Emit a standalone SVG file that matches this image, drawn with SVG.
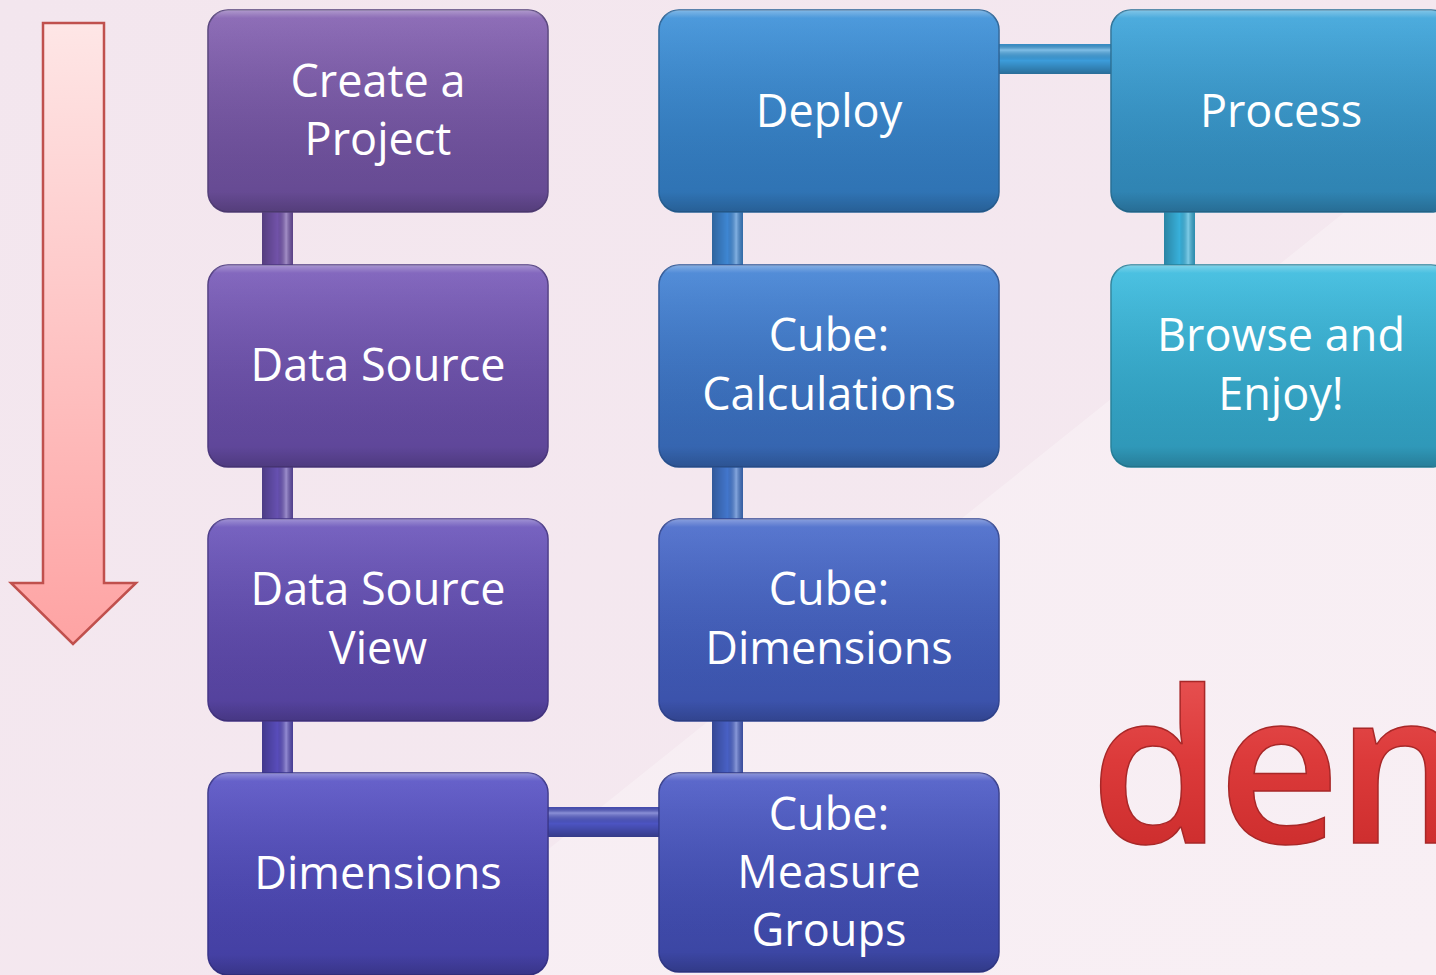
<svg xmlns="http://www.w3.org/2000/svg" width="1436" height="975" viewBox="0 0 1436 975">
<style>
.t{fill:#ffffff;font-family:"Open Sans","Liberation Sans",sans-serif;font-size:45px;text-anchor:middle}
.box{stroke-width:1.5}
.vt{fill:url(#vtube)}
.ht{fill:url(#htube)}
</style>
<defs>
<linearGradient id="bg" x1="0" y1="0" x2="1" y2="1">
<stop offset="0" stop-color="#f3e6ee"/><stop offset="1" stop-color="#f5e9f0"/>
</linearGradient>
<linearGradient id="arrowg" x1="0" y1="0" x2="0" y2="1">
<stop offset="0" stop-color="#fee6e6"/><stop offset="1" stop-color="#fea3a3"/>
</linearGradient>
<linearGradient id="demg" x1="0" y1="0" x2="0" y2="1">
<stop offset="0" stop-color="#ee6060"/><stop offset="0.5" stop-color="#dc3a3a"/><stop offset="1" stop-color="#c42626"/>
</linearGradient>
<linearGradient id="gloss" x1="0" y1="0" x2="0" y2="1">
<stop offset="0" stop-color="#ffffff" stop-opacity="0.35"/>
<stop offset="0.04" stop-color="#ffffff" stop-opacity="0.08"/>
<stop offset="0.9" stop-color="#000000" stop-opacity="0"/>
<stop offset="1" stop-color="#000000" stop-opacity="0.15"/>
</linearGradient>
<linearGradient id="vtube" x1="0" y1="0" x2="1" y2="0">
<stop offset="0" stop-color="#000000" stop-opacity="0.25"/>
<stop offset="0.5" stop-color="#000000" stop-opacity="0"/>
<stop offset="0.78" stop-color="#ffffff" stop-opacity="0.35"/>
<stop offset="1" stop-color="#000000" stop-opacity="0.2"/>
</linearGradient>
<linearGradient id="htube" x1="0" y1="0" x2="0" y2="1">
<stop offset="0" stop-color="#000000" stop-opacity="0.1"/>
<stop offset="0.2" stop-color="#ffffff" stop-opacity="0.35"/>
<stop offset="0.55" stop-color="#000000" stop-opacity="0"/>
<stop offset="1" stop-color="#000000" stop-opacity="0.3"/>
</linearGradient>
<linearGradient id="g1" x1="0" y1="0" x2="0" y2="1"><stop offset="0" stop-color="#8562b2"/><stop offset="1" stop-color="#634890"/></linearGradient>
<linearGradient id="g2" x1="0" y1="0" x2="0" y2="1"><stop offset="0" stop-color="#7a5cba"/><stop offset="1" stop-color="#5c4496"/></linearGradient>
<linearGradient id="g3" x1="0" y1="0" x2="0" y2="1"><stop offset="0" stop-color="#6c56bc"/><stop offset="1" stop-color="#52409a"/></linearGradient>
<linearGradient id="g4" x1="0" y1="0" x2="0" y2="1"><stop offset="0" stop-color="#5a54c6"/><stop offset="1" stop-color="#423ea0"/></linearGradient>
<linearGradient id="g5" x1="0" y1="0" x2="0" y2="1"><stop offset="0" stop-color="#4e5cc8"/><stop offset="1" stop-color="#3a44a0"/></linearGradient>
<linearGradient id="g6" x1="0" y1="0" x2="0" y2="1"><stop offset="0" stop-color="#4a6ccc"/><stop offset="1" stop-color="#3a50a8"/></linearGradient>
<linearGradient id="g7" x1="0" y1="0" x2="0" y2="1"><stop offset="0" stop-color="#4484d6"/><stop offset="1" stop-color="#3462ac"/></linearGradient>
<linearGradient id="g8" x1="0" y1="0" x2="0" y2="1"><stop offset="0" stop-color="#3e92da"/><stop offset="1" stop-color="#2e70b0"/></linearGradient>
<linearGradient id="g9" x1="0" y1="0" x2="0" y2="1"><stop offset="0" stop-color="#3ea6dc"/><stop offset="1" stop-color="#2e80ae"/></linearGradient>
<linearGradient id="g10" x1="0" y1="0" x2="0" y2="1"><stop offset="0" stop-color="#3cbde0"/><stop offset="1" stop-color="#2e94b4"/></linearGradient>
</defs>

<rect x="0" y="0" width="1436" height="975" fill="url(#bg)"/>
<polygon points="391,975 1436,139 1436,975" fill="#ffffff" opacity="0.28"/>

<g id="arrow">
<polygon points="43,23 104,23 104,583 136,583 73,644 11,583 43,583" fill="url(#arrowg)" stroke="#c0504d" stroke-width="2.5" stroke-linejoin="miter"/>
</g>

<g id="connectors">
<rect x="262" y="208" width="31" height="60" fill="#7152a8"/><rect x="262" y="208" width="31" height="60" class="vt"/>
<rect x="262" y="462" width="31" height="60" fill="#6650b0"/><rect x="262" y="462" width="31" height="60" class="vt"/>
<rect x="262" y="716" width="31" height="60" fill="#584cba"/><rect x="262" y="716" width="31" height="60" class="vt"/>
<rect x="544" y="807" width="119" height="30" fill="#4c54c2"/><rect x="544" y="807" width="119" height="30" class="ht"/>
<rect x="712" y="716" width="31" height="60" fill="#4860c4"/><rect x="712" y="716" width="31" height="60" class="vt"/>
<rect x="712" y="462" width="31" height="60" fill="#4276cc"/><rect x="712" y="462" width="31" height="60" class="vt"/>
<rect x="712" y="208" width="31" height="60" fill="#3e86d2"/><rect x="712" y="208" width="31" height="60" class="vt"/>
<rect x="995" y="44" width="120" height="30" fill="#3c9cda"/><rect x="995" y="44" width="120" height="30" class="ht"/>
<rect x="1164" y="208" width="31" height="60" fill="#38b0da"/><rect x="1164" y="208" width="31" height="60" class="vt"/>
</g>

<g id="n1"><rect class="box" x="208" y="10" width="340" height="202" rx="20" fill="url(#g1)" stroke="#54407a"/><rect x="208" y="10" width="340" height="202" rx="20" fill="url(#gloss)"/>
<text class="t" x="378" y="97">Create a</text><text class="t" x="378" y="155">Project</text></g>
<g id="n2"><rect class="box" x="208" y="265" width="340" height="202" rx="20" fill="url(#g2)" stroke="#4e3a80"/><rect x="208" y="265" width="340" height="202" rx="20" fill="url(#gloss)"/>
<text class="t" x="378" y="381">Data Source</text></g>
<g id="n3"><rect class="box" x="208" y="519" width="340" height="202" rx="20" fill="url(#g3)" stroke="#463686"/><rect x="208" y="519" width="340" height="202" rx="20" fill="url(#gloss)"/>
<text class="t" x="378" y="605">Data Source</text><text class="t" x="378" y="664">View</text></g>
<g id="n4"><rect class="box" x="208" y="773" width="340" height="202" rx="20" fill="url(#g4)" stroke="#38348a"/><rect x="208" y="773" width="340" height="202" rx="20" fill="url(#gloss)"/>
<text class="t" x="378" y="889">Dimensions</text></g>
<g id="n5"><rect class="box" x="659" y="773" width="340" height="199" rx="20" fill="url(#g5)" stroke="#323a8a"/><rect x="659" y="773" width="340" height="199" rx="20" fill="url(#gloss)"/>
<text class="t" x="829" y="830">Cube:</text><text class="t" x="829" y="888">Measure</text><text class="t" x="829" y="946">Groups</text></g>
<g id="n6"><rect class="box" x="659" y="519" width="340" height="202" rx="20" fill="url(#g6)" stroke="#324692"/><rect x="659" y="519" width="340" height="202" rx="20" fill="url(#gloss)"/>
<text class="t" x="829" y="605">Cube:</text><text class="t" x="829" y="664">Dimensions</text></g>
<g id="n7"><rect class="box" x="659" y="265" width="340" height="202" rx="20" fill="url(#g7)" stroke="#2c5696"/><rect x="659" y="265" width="340" height="202" rx="20" fill="url(#gloss)"/>
<text class="t" x="829" y="351">Cube:</text><text class="t" x="829" y="410">Calculations</text></g>
<g id="n8"><rect class="box" x="659" y="10" width="340" height="202" rx="20" fill="url(#g8)" stroke="#286296"/><rect x="659" y="10" width="340" height="202" rx="20" fill="url(#gloss)"/>
<text class="t" x="829" y="127">Deploy</text></g>
<g id="n9"><rect class="box" x="1111" y="10" width="340" height="202" rx="20" fill="url(#g9)" stroke="#287096"/><rect x="1111" y="10" width="340" height="202" rx="20" fill="url(#gloss)"/>
<text class="t" x="1281" y="127">Process</text></g>
<g id="n10"><rect class="box" x="1111" y="265" width="340" height="202" rx="20" fill="url(#g10)" stroke="#28829c"/><rect x="1111" y="265" width="340" height="202" rx="20" fill="url(#gloss)"/>
<text class="t" x="1281" y="351">Browse and</text><text class="t" x="1281" y="410">Enjoy!</text></g>

<g id="demo">
<text x="1090" y="843" font-family="'Open Sans','Liberation Sans',sans-serif" font-weight="600" font-size="212" letter-spacing="-4" fill="url(#demg)" stroke="#a82828" stroke-width="1.5">dem</text>
</g>
</svg>
